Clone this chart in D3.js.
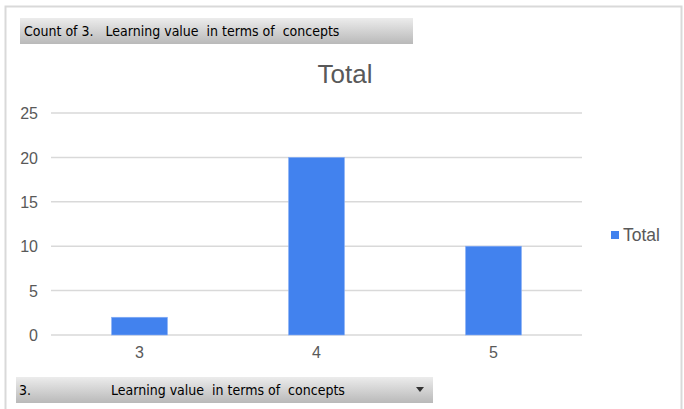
<!DOCTYPE html>
<meta charset="utf-8">
<script src="https://cdn.jsdelivr.net/npm/d3@7"></script>
<style>
body { margin: 0; background: #fff; }
text { font-family: "Liberation Sans", Arial, sans-serif; }
.btn text { font-family: "DejaVu Sans Condensed", "DejaVu Sans", sans-serif; font-size: 14px; fill: #000; white-space: pre; }
.tick text { fill: #595959; font-size: 16px; font-family: "Liberation Sans", Arial, sans-serif; }
</style>
<body>
<script>

// data
var categories = ["3", "4", "5"];
var counts = [2, 20, 10];
var yTicks = [0, 5, 10, 15, 20, 25];
var seriesName = "Total";

var width = 684,
    height = 409;

var svg = d3.select("body").append("svg")
    .attr("width", width)
    .attr("height", height);

// chart frame
svg.append("rect")
    .attr("x", 5.5).attr("y", 6.5)
    .attr("width", 676).attr("height", 410)
    .attr("fill", "#fff")
    .attr("stroke", "#d9d9d9")
    .attr("stroke-width", 2);

var x = d3.scaleBand()
    .domain(categories)
    .range([51, 582])
    .paddingInner(0.684)
    .paddingOuter(0.342);

var y = d3.scaleLinear()
    .domain([0, 25])
    .range([335, 113]);

// gridlines
svg.append("g")
    .selectAll("line")
    .data(yTicks)
    .enter().append("line")
    .attr("x1", 51).attr("x2", 582)
    .attr("y1", function(d) { return y(d); })
    .attr("y2", function(d) { return y(d); })
    .attr("stroke", "#d9d9d9")
    .attr("stroke-width", 1.5);

// y labels
var yAxis = svg.append("g")
    .attr("transform", "translate(38,0)")
    .call(d3.axisLeft(y).tickValues(yTicks).tickSize(0).tickPadding(0));
yAxis.select(".domain").remove();
yAxis.selectAll("text").attr("dy", "0.35em");

// x labels
var xAxis = svg.append("g")
    .attr("transform", "translate(0,335)")
    .call(d3.axisBottom(x).tickSize(0).tickPadding(12));
xAxis.select(".domain").remove();

// bars
svg.append("g")
    .selectAll("rect")
    .data(counts)
    .enter().append("rect")
    .attr("x", function(d, i) { return x(categories[i]); })
    .attr("y", function(d) { return y(d); })
    .attr("width", x.bandwidth())
    .attr("height", function(d) { return y(0) - y(d); })
    .attr("fill", "#4282ee")
    .attr("stroke", "#8ab0f5")
    .attr("stroke-width", 0.6);

// title
svg.append("text")
    .attr("x", 345).attr("y", 83)
    .attr("text-anchor", "middle")
    .style("font-size", "26px")
    .attr("fill", "#595959")
    .text(seriesName);

// legend
svg.append("rect")
    .attr("x", 611).attr("y", 231)
    .attr("width", 8).attr("height", 8)
    .attr("fill", "#4282ee");
svg.append("text")
    .attr("x", 623).attr("y", 241)
    .style("font-size", "17.5px")
    .attr("fill", "#595959")
    .text(seriesName);

// pivot field buttons
var grad = svg.append("defs").append("linearGradient")
    .attr("id", "btnGrad")
    .attr("x1", 0).attr("y1", 0).attr("x2", 0).attr("y2", 1);
grad.append("stop").attr("offset", "0%").attr("stop-color", "#ececec");
grad.append("stop").attr("offset", "100%").attr("stop-color", "#b9b9b9");

var topBtn = svg.append("g").attr("class", "btn");
topBtn.append("rect")
    .attr("x", 20).attr("y", 18)
    .attr("width", 393).attr("height", 26)
    .attr("fill", "url(#btnGrad)");
topBtn.append("text")
    .attr("x", 24).attr("y", 36)
    .text("Count of 3.   Learning value  in terms of  concepts");

var bottomBtn = svg.append("g").attr("class", "btn");
bottomBtn.append("rect")
    .attr("x", 16).attr("y", 377)
    .attr("width", 417).attr("height", 26)
    .attr("fill", "url(#btnGrad)");
bottomBtn.append("text")
    .attr("x", 19).attr("y", 395)
    .text("3.");
bottomBtn.append("text")
    .attr("x", 111).attr("y", 395)
    .text("Learning value  in terms of  concepts");
bottomBtn.append("path")
    .attr("d", "M416,387L424,387L420,392Z")
    .attr("fill", "#333");

</script>
</body>
